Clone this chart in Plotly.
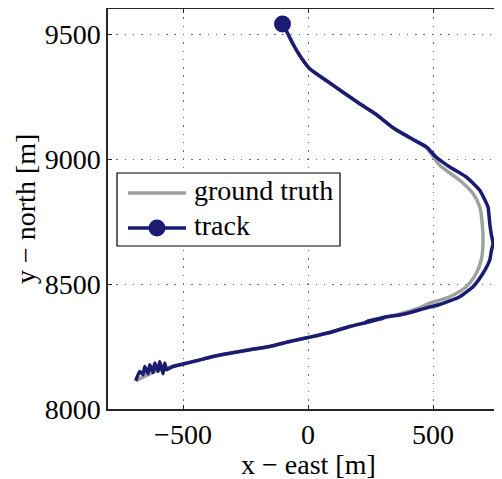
import plotly.graph_objects as go

# track, listed from north end to south-west end
track_x = [-102, -80, -60, -33, 7, 73, 140, 207, 273, 340, 420, 474, 510, 567, 633, 687,
           720, 724, 727, 733, 740, 733, 727, 700, 660, 607, 527, 487, 434, 367, 320, 233,
           300, 233, 167, 87, 0, -73, -153, -233, -313, -380, -446, -500, -540,
           -566, -573, -580, -593, -600, -613, -620, -633, -640, -653, -660, -673, -689]
track_y = [9540, 9500, 9460, 9414, 9361, 9314, 9267, 9221, 9178, 9125, 9078, 9048, 9010, 8968, 8928, 8875,
           8808, 8775, 8742, 8700, 8662, 8630, 8596, 8543, 8489, 8449, 8418, 8408, 8393, 8376, 8370, 8350,
           8363, 8346, 8330, 8306, 8286, 8270, 8250, 8237, 8223, 8210, 8193, 8180, 8170,
           8157, 8184, 8141, 8190, 8150, 8184, 8146, 8177, 8141, 8170, 8137, 8150, 8113]

# ground truth
truth_x = [-102, -80, -60, -33, 7, 73, 140, 207, 273, 340, 420, 474, 527, 607, 660, 687,
           697, 700, 693, 673, 633, 567, 487, 434, 367, 300, 233, 167, 87, 0, -73, -153,
           -233, -313, -380, -446, -500, -540, -600, -689]
truth_y = [9540, 9500, 9460, 9414, 9361, 9314, 9267, 9221, 9178, 9125, 9078, 9045, 8975, 8915, 8862, 8808,
           8742, 8662, 8596, 8543, 8489, 8449, 8423, 8400, 8380, 8363, 8346, 8330, 8306, 8286, 8270, 8250,
           8237, 8223, 8210, 8193, 8180, 8170, 8155, 8113]

x_ticks = [-500, 0, 500]
x_labels = ["\u2212500", "0", "500"]
y_ticks = [8000, 8500, 9000, 9500]
y_labels = ["8000", "8500", "9000", "9500"]
legend_names = ["ground truth", "track"]

NAVY = "#1b1b72"
GRAY = "#a0a0a0"
FONT = "Liberation Serif"
AX = "#262626"

fig = go.Figure()
fig.add_trace(go.Scatter(x=truth_x, y=truth_y, mode="lines", name=legend_names[0],
                         showlegend=False,
                         line=dict(color=GRAY, width=3.5, shape="spline", smoothing=0.8)))
fig.add_trace(go.Scatter(x=track_x, y=track_y, mode="lines", name=legend_names[1],
                         showlegend=False,
                         line=dict(color=NAVY, width=3.5, shape="spline", smoothing=0.5)))
fig.add_trace(go.Scatter(x=track_x[:1], y=track_y[:1], mode="markers", name=legend_names[1],
                         showlegend=False, marker=dict(color=NAVY, size=17)))

axis_common = dict(showgrid=True, gridcolor="#6a6a6a", griddash="1.5px,6.8px", gridwidth=1,
                   zeroline=False, showline=True, linecolor=AX, linewidth=1.5,
                   ticks="inside", ticklen=4, tickcolor=AX, automargin=False,
                   tickfont=dict(family=FONT, size=28, color="black"))

# legend drawn in paper coordinates (plot area: 394 x 400 px)
PW, PH = 394.0, 400.0
def px(xp):  # page px -> paper x
    return (xp - 108) / PW
def py(yp):  # page px -> paper y
    return (409 - yp) / PH

shapes = [
    dict(type="rect", xref="paper", yref="paper", x0=px(117), x1=px(340), y0=py(246), y1=py(173),
         line=dict(color="black", width=1.2), fillcolor="white", layer="above"),
    dict(type="line", xref="paper", yref="paper", x0=px(128), x1=px(186), y0=py(193), y1=py(193),
         line=dict(color=GRAY, width=3.5), layer="above"),
    dict(type="line", xref="paper", yref="paper", x0=px(128), x1=px(186), y0=py(228), y1=py(228),
         line=dict(color=NAVY, width=3.5), layer="above"),
    dict(type="circle", xref="paper", yref="paper", x0=px(157 - 8.5), x1=px(157 + 8.5),
         y0=py(228 + 8.5), y1=py(228 - 8.5), line=dict(color=NAVY, width=0), fillcolor=NAVY,
         layer="above"),
]

annotations = [
    dict(text="x \u2212 east [m]", xref="x", x=0, yref="paper", y=0, yshift=-55,
         xanchor="center", yanchor="middle", showarrow=False,
         font=dict(family=FONT, size=28, color="black")),
    dict(text="y \u2212 north [m]", xref="paper", x=0, xshift=-83, yref="paper", y=0.5,
         xanchor="center", yanchor="middle", textangle=-90, showarrow=False,
         font=dict(family=FONT, size=28, color="black")),
    dict(text=legend_names[0], xref="paper", x=px(192), yref="paper", y=py(190),
         xanchor="left", yanchor="middle", showarrow=False,
         font=dict(family=FONT, size=28, color="black")),
    dict(text=legend_names[1], xref="paper", x=px(192), yref="paper", y=py(225),
         xanchor="left", yanchor="middle", showarrow=False,
         font=dict(family=FONT, size=28, color="black")),
]

# the page body has an 8px margin, so the figure is drawn 8px smaller and offset
fig.update_layout(
    width=494, height=471,
    margin=dict(l=100, r=0, t=1, b=70),
    paper_bgcolor="white", plot_bgcolor="white",
    showlegend=False,
    xaxis=dict(range=[-800, 776], tickvals=x_ticks, ticktext=x_labels,
               mirror="ticks", **axis_common),
    yaxis=dict(range=[8000, 9600], tickvals=y_ticks, ticktext=y_labels,
               mirror=False, **axis_common),
    shapes=shapes,
    annotations=annotations,
)

fig.write_html("out.html")
